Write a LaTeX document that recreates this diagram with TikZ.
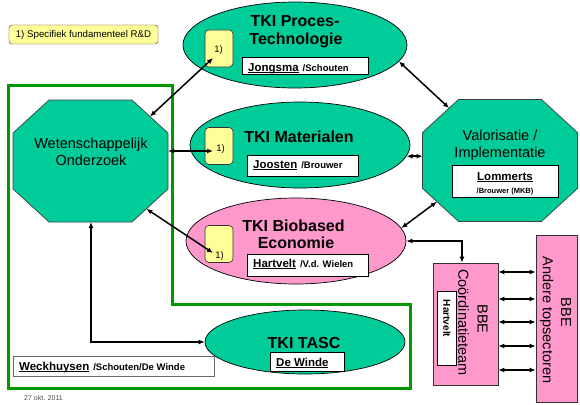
\documentclass[tikz,border=0pt]{standalone}
\usepackage{fontspec}
\setmainfont{Liberation Sans}
\usetikzlibrary{arrows.meta,calc,shapes.geometric}
\definecolor{teal2}{HTML}{00CC99}
\definecolor{pink2}{HTML}{FF99CC}
\definecolor{yel2}{HTML}{FFFF99}
\definecolor{grn2}{HTML}{009900}
\newcommand\nmul[1]{\setbox0\hbox{#1}\rlap{\rule[-2pt]{\wd0}{1.1pt}}\box0}
\newcommand\nmA{\fontsize{11.5}{13}\selectfont\bfseries}
\newcommand\nmB{\fontsize{9.5}{11}\selectfont\bfseries}
\begin{document}
\begin{tikzpicture}[x=1pt,y=-1pt,
  ell/.style={draw=black,line width=0.7pt,ellipse,inner sep=0pt},
  octo/.style={draw=black!75,line width=0.7pt,fill=teal2},
  namebox/.style={draw=black,fill=white,line width=0.7pt,inner sep=0pt},
  ybox/.style={draw=black!80,fill=yel2,line width=0.6pt,rounded corners=4pt,inner sep=0pt,minimum width=28,minimum height=37},
  ttl/.style={font=\fontsize{16}{18}\selectfont\bfseries,anchor=base,inner sep=0pt},
  octtxt/.style={font=\fontsize{14.5}{17}\selectfont,anchor=base,inner sep=0pt},
  nametxt/.style={anchor=base west,inner sep=0pt},
  lbl/.style={font=\fontsize{9.5}{11}\selectfont,inner sep=0pt},
  bbetxt/.style={font=\fontsize{14.5}{17}\selectfont,rotate=-90,inner sep=0pt},
  arr/.style={{Latex[length=6pt,width=5pt]}-{Latex[length=6pt,width=5pt]},line width=1.5pt},
  greenline/.style={draw=grn2,line width=3pt}
]
\useasboundingbox (0,0) rectangle (580,404);

% green frame
\draw[greenline] (8,85) -- (172,85) -- (172,304) -- (410,304) -- (410,388) -- (8,388) -- cycle;

% legend
\node[draw=black!80,fill=yel2,rounded corners=3pt,minimum width=149,minimum height=19,inner sep=0pt,font=\fontsize{9.7}{11}\selectfont] (legend) at (83.5,34.5) {1) Specifiek fundamenteel R\&D};

% octagon W
\begin{scope}[shift={(90.5,161)}]
  \draw[octo] (-77.5,-28) -- (-41.5,-61) -- (41.5,-61) -- (77.5,-28) -- (77.5,28) -- (41.5,61) -- (-41.5,61) -- (-77.5,28) -- cycle;
  \coordinate (wPT) at (59.5,-44.5);
  \coordinate (wR) at (77.5,-10);
  \coordinate (wBR) at (55.9,47.8);
  \coordinate (wB) at (0.5,61);
\end{scope}
\node[octtxt] (wt1) at (91,148) {Wetenschappelijk};
\node[octtxt] (wt2) at (91,165) {Onderzoek};

% octagon V
\begin{scope}[shift={(500,160.5)}]
  \draw[octo] (-77.5,-28) -- (-41.5,-61) -- (41.5,-61) -- (77.5,-28) -- (77.5,28) -- (41.5,61) -- (-41.5,61) -- (-77.5,28) -- cycle;
  \coordinate (vTL) at (-50.9,-52.4);
  \coordinate (vL) at (-77.5,-4.5);
  \coordinate (vBL) at (-63.1,41.2);
\end{scope}
\node[octtxt] (vt1) at (500,140) {Valorisatie /};
\node[octtxt] (vt2) at (500,157) {Implementatie};
\node[namebox,minimum width=106,minimum height=32] (lbox) at (505,181) {};
\node[anchor=base,inner sep=0pt,font=\nmA] (lt1) at (505,180) {\nmul{Lommerts}};
\node[anchor=base,inner sep=0pt,font=\fontsize{7.5}{9}\selectfont\bfseries] (lt2) at (505,193) {/Brouwer (MKB)};

% TKI Proces-Technologie
\node[ell,fill=teal2,minimum width=224,minimum height=86] (proc) at (295,45) {};
\node[ybox] (y1) at (219,48.5) {};
\node[lbl] at (218.5,50) {1)};
\node[ttl] at (295,27) {TKI Proces-};
\node[ttl] at (296,45) {Technologie};
\node[namebox,minimum width=126,minimum height=17] (jbox) at (305,65.5) {};
\node[nametxt] at (248,71) {\nmA\nmul{Jongsma}\hspace{4pt}\nmB/Schouten};

% TKI Materialen
\node[ell,fill=teal2,minimum width=220,minimum height=86] (mat) at (300,145) {};
\node[ybox] (y2) at (219,146) {};
\node[lbl] at (220.5,149) {1)};
\node[ttl] at (299,142) {TKI Materialen};
\node[namebox,minimum width=111,minimum height=21] (jobox) at (302.5,165.5) {};
\node[nametxt] at (253,168) {\nmA\nmul{Joosten}\hspace{4pt}\nmB/Brouwer};

% TKI Biobased Economie
\node[ell,fill=pink2,minimum width=220,minimum height=86] (bio) at (296,241) {};
\node[ybox] (y3) at (219,244) {};
\node[lbl] at (219.5,256) {1)};
\node[ttl] at (293.5,231) {TKI Biobased};
\node[ttl] at (296,248) {Economie};
\node[namebox,minimum width=121,minimum height=22] (hvbox) at (307.5,265) {};
\node[nametxt] at (253,267) {\nmA\nmul{Hartvelt}\hspace{4pt}\nmB/V.d. Wielen};

% TKI TASC
\node[ell,fill=teal2,minimum width=200,minimum height=64] (tasc) at (305,342) {};
\node[ttl] at (304,348) {TKI TASC};
\node[namebox,minimum width=74,minimum height=19] (dwbox) at (307,361.5) {};
\node[nametxt] at (276,366) {\nmA\nmul{De Winde}};

% Weckhuysen box
\node[draw=black!60,fill=white,line width=0.7pt,inner sep=0pt,minimum width=201,minimum height=20] (wbox) at (113.5,366) {};
\node[nametxt] at (19,370) {\nmA\nmul{Weckhuysen}\hspace{4pt}\nmB/Schouten/De Winde};

% BBE rectangles
\node[draw=black!80,fill=pink2,line width=0.7pt,inner sep=0pt,minimum width=65,minimum height=122] (cord) at (465.5,324) {};
\node[bbetxt] at (482.5,319) {BBE};
\node[bbetxt] at (463.5,322.5) {Coördinatieteam};
\node[namebox,minimum width=19,minimum height=74] (hbox) at (446.5,328) {};
\node[rotate=-90,inner sep=0pt,font=\fontsize{10}{12}\selectfont\bfseries] at (447,318.5) {Hartvelt};
\node[draw=black!80,fill=pink2,line width=0.7pt,inner sep=0pt,minimum width=41,minimum height=167] (andere) at (556.5,318.5) {};
\node[bbetxt] at (566,312.5) {BBE};
\node[bbetxt] at (546.5,320) {Andere topsectoren};
\coordinate (cordN) at ($(cord.north)+(-3.5,0)$);

% connectors
\draw[arr] (wPT) -- ($(y1.center)+(-6,9.5)$);
\draw[arr] (wR) -- ($(y2.center)+(-6,5)$);
\draw[arr] (wBR) -- ($(y3.center)+(-6,9)$);
\draw[arr] (wB) |- (tasc.west);
\draw[arr] (proc.-9) -- (vTL);
\draw[arr] (mat.-6) -- (mat.-6 -| vL);
\draw[arr] (bio.7) -- (vBL);
\draw[arr] (bio.east) -| (cordN);
\foreach \yy in {272,299,322,346,370}
  \draw[arr] (cord.east |- 0,\yy) -- (andere.west |- 0,\yy);

% date
\node[anchor=north west,inner sep=0pt,font=\fontsize{7}{8}\selectfont,text=black!70] (date) at (24,395.5) {27 okt. 2011};
\end{tikzpicture}
\end{document}
